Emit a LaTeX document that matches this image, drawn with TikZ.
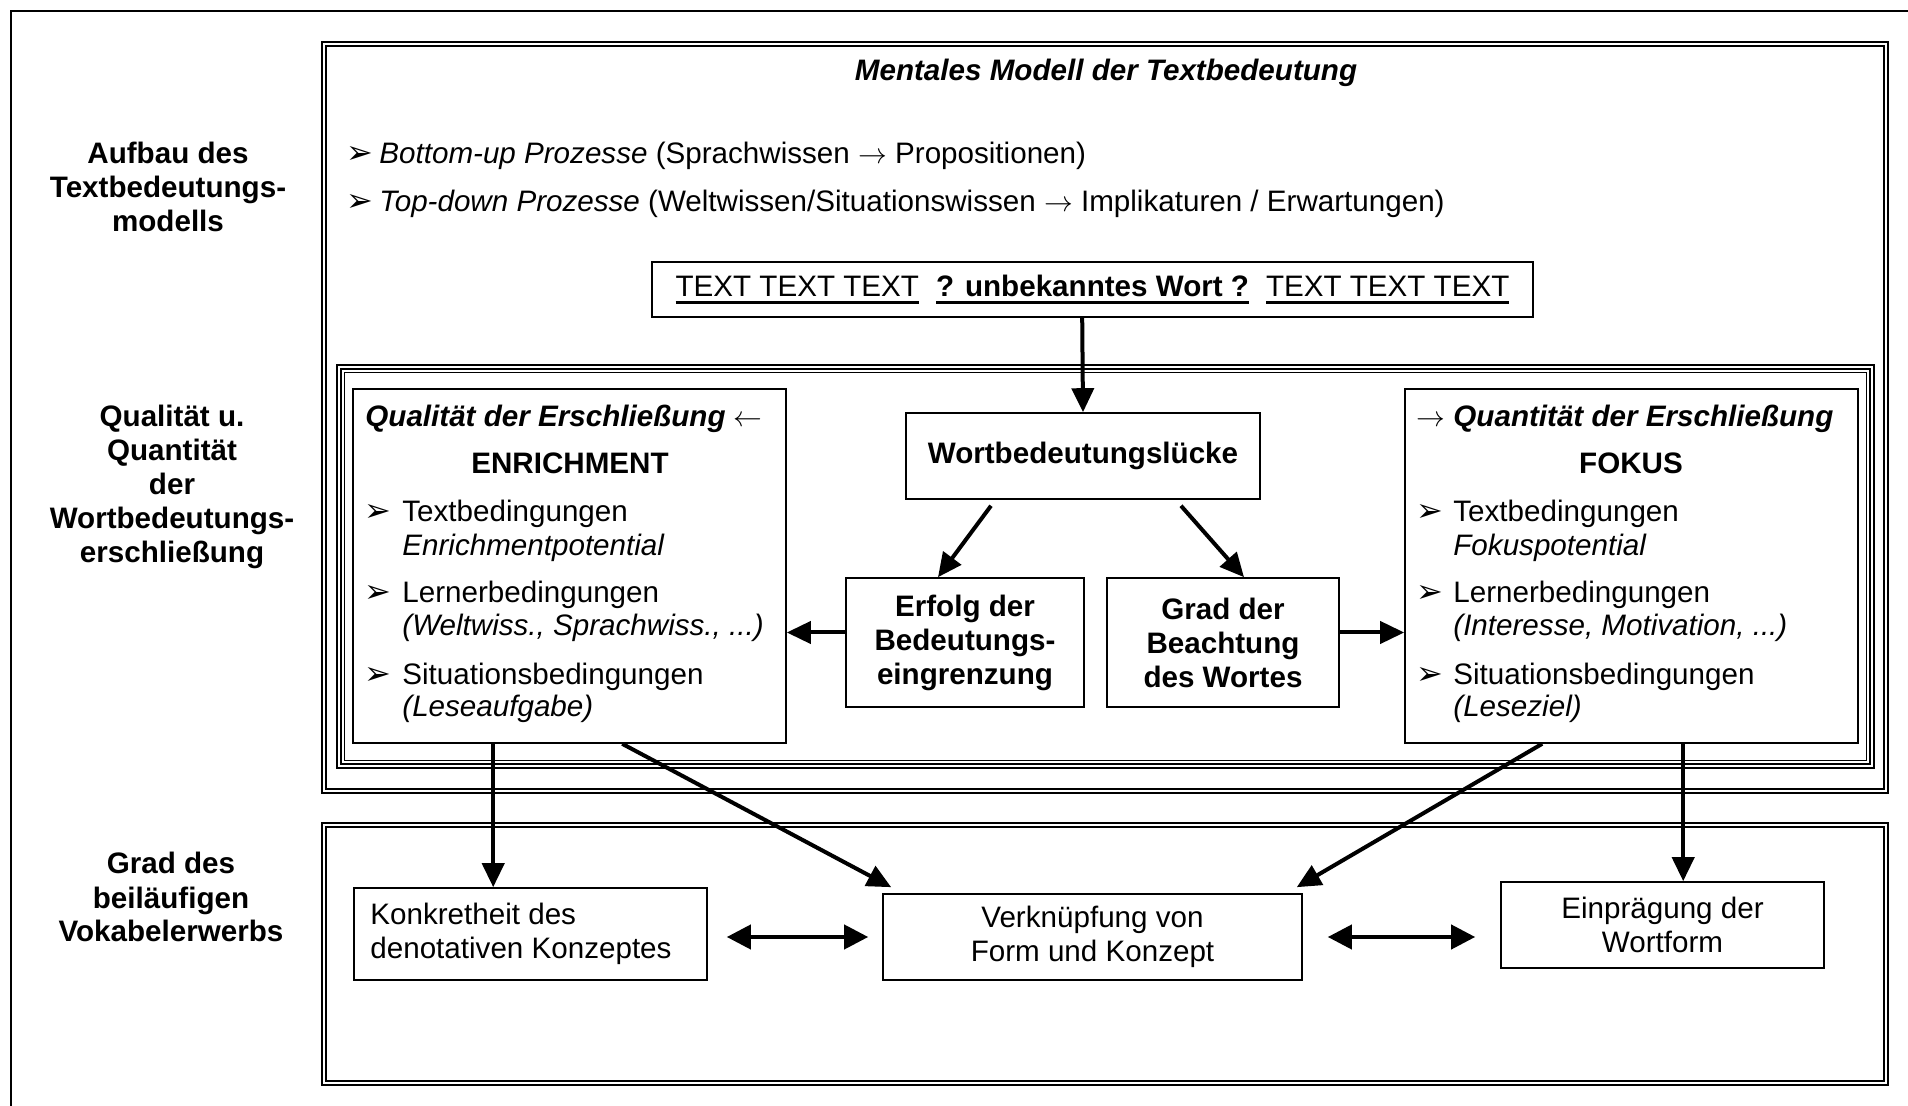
\documentclass[tikz,border=0pt]{standalone}
\usepackage{fontspec}
\setmainfont{Liberation Sans}
\newfontfamily\dingfont{DejaVu Sans}
\usetikzlibrary{arrows.meta,fit,calc}

% thick underline for the sample sentence
\newcommand\thul[1]{\setbox0\hbox{#1}\rlap{\rule[-3.4pt]{\wd0}{1.2pt}}\box0}
% arrowhead bullet
\newcommand\bul{{\dingfont\fontsize{16}{16}\selectfont ➢}}

\begin{document}
\begin{tikzpicture}[x=0.5pt,y=-0.5pt,
  font=\fontsize{14.8}{17}\selectfont,
  box/.style={draw, line width=0.8pt, inner sep=0pt},
  arr/.style={line width=2pt, -{Triangle[length=12pt,width=11pt]}},
  darr/.style={line width=2pt, {Triangle[length=12pt,width=12pt]}-{Triangle[length=12pt,width=12pt]}},
  lab/.style={anchor=base, inner sep=0pt, font=\fontsize{14.8}{17}\selectfont\bfseries},
  tl/.style={anchor=base west, inner sep=0pt},
  tc/.style={anchor=base, inner sep=0pt},
  mid/.style={anchor=center, inner sep=0pt, align=center},
  frame/.style={line width=1pt},
  bold/.style={font=\fontsize{14.8}{17}\selectfont\bfseries},
]
\useasboundingbox (0,0) rectangle (1908,1106);

% open outer frame
\draw[line width=1.1pt] (11,1110) -- (11,11) -- (1912,11);

% section frames
\draw[frame] (322,42) rectangle (1888,793);
\draw[frame] (326,46) rectangle (1884,789);
\draw[line width=0.6pt] (337,365) rectangle (1874,768);
\draw[line width=1.1pt] (341,369) rectangle (1870,764);
\draw[line width=0.6pt] (344.5,372.5) rectangle (1866.5,760.5);
\draw[frame] (322,823) rectangle (1888,1085);
\draw[frame] (326,827) rectangle (1884,1081);

% row labels
\node[lab] (la1) at (168,164) {Aufbau des};
\node[lab] (la2) at (168,198) {Textbedeutungs-};
\node[lab] (la3) at (168,232) {modells};
\node[lab] (lb1) at (172,427) {Qualität u.};
\node[lab] (lb2) at (172,461) {Quantität};
\node[lab] (lb3) at (172,495) {der};
\node[lab] (lb4) at (172,529) {Wortbedeutungs-};
\node[lab] (lb5) at (172,563) {erschließung};
\node[lab] (lc1) at (171,874) {Grad des};
\node[lab] (lc2) at (171,908) {beiläufigen};
\node[lab] (lc3) at (171,942) {Vokabelerwerbs};

% mental model section
\node[tc, font=\fontsize{14.8}{17}\selectfont\bfseries\itshape] (title) at (1106,81) {Mentales Modell der Textbedeutung};
\node[tl] (bu1) at (346,164) {\bul};
\node[tl] (p1) at (379,164) {{\itshape Bottom-up Prozesse} (Sprachwissen $\rightarrow$ Propositionen)};
\node[tl] (bu2) at (346,212) {\bul};
\node[tl] (p2) at (379,212) {{\itshape Top-down Prozesse} (Weltwissen/Situationswissen $\rightarrow$ Implikaturen / Erwartungen)};

\node[box, fit={(652,262) (1533,317)}] (textbox) {};
\node[tc] (sample) at ($(textbox.center)+(0,7.5)$)
  {\thul{TEXT TEXT TEXT}\hspace{8.5pt}\thul{\bfseries ? unbekanntes Wort ?}\hspace{8.5pt}\thul{TEXT TEXT TEXT}};

% word meaning gap section
\node[box, fit={(906,413) (1260,499)}] (wort) {};
\node[mid, bold] (wortt) at (wort.center) {Wortbedeutungslücke};
\node[box, fit={(846,578) (1084,707)}] (erfolg) {};
\node[mid, bold] (erfolgt) at (erfolg.center) {Erfolg der\\Bedeutungs-\\eingrenzung};
\node[box, fit={(1107,578) (1339,707)}] (grad) {};
\node[mid, bold] (gradt) at (grad.center) {Grad der\\Beachtung\\des Wortes};

\node[box, fit={(353,389) (786,743)}] (lbox) {};
\node[tl] (lh) at (365,427) {{\bfseries\itshape Qualität der Erschließung} $\leftarrow$};
\node[tc, bold] (lh2) at (570,474) {ENRICHMENT};
\node[tl] (lbu1) at (364,522) {\bul};
\node[tl] (lt1) at (402,522) {Textbedingungen};
\node[tl] (lt1b) at (402,556) {\itshape Enrichmentpotential};
\node[tl] (lbu2) at (364,603) {\bul};
\node[tl] (lt2) at (402,603) {Lernerbedingungen};
\node[tl] (lt2b) at (402,636) {\itshape (Weltwiss., Sprachwiss., ...)};
\node[tl] (lbu3) at (364,685) {\bul};
\node[tl] (lt3) at (402,685) {Situationsbedingungen};
\node[tl] (lt3b) at (402,717) {\itshape (Leseaufgabe)};

\node[box, fit={(1405,389) (1858,743)}] (rbox) {};
\node[tl] (rh) at (1416,427) {$\rightarrow$ {\bfseries\itshape Quantität der Erschließung}};
\node[tc, bold] (rh2) at (1631,474) {FOKUS};
\node[tl] (rbu1) at (1416,522) {\bul};
\node[tl] (rt1) at (1453,522) {Textbedingungen};
\node[tl] (rt1b) at (1453,556) {\itshape Fokuspotential};
\node[tl] (rbu2) at (1416,603) {\bul};
\node[tl] (rt2) at (1453,603) {Lernerbedingungen};
\node[tl] (rt2b) at (1453,636) {\itshape (Interesse, Motivation, ...)};
\node[tl] (rbu3) at (1416,685) {\bul};
\node[tl] (rt3) at (1453,685) {Situationsbedingungen};
\node[tl] (rt3b) at (1453,717) {\itshape (Leseziel)};

% incidental vocabulary acquisition section
\node[box, fit={(354,888) (707,980)}] (konk) {};
\node[tl] (kt1) at (370,925) {Konkretheit des};
\node[tl] (kt2) at (370,958) {denotativen Konzeptes};
\node[box, fit={(883,894) (1302,980)}] (verk) {};
\node[mid] (verkt) at (verk.center) {Verknüpfung von\\Form und Konzept};
\node[box, fit={(1501,882) (1824,968)}] (einp) {};
\node[mid] (einpt) at (einp.center) {Einprägung der\\Wortform};

% connectors
\draw[arr] ($(textbox.south west)+(431,0)$) -- (wort.north);
\draw[arr] ($(wort.south)+(-92,6)$) -- ($(erfolg.north)+(-27,0)$);
\draw[arr] ($(wort.south)+(98,6)$) -- ($(grad.north)+(21,0)$);
\draw[arr] ($(erfolg.west)+(0,-10)$) -- ($(erfolg.west -| lbox.east)+(0,-10)$);
\draw[arr] ($(grad.east)+(0,-10)$) -- ($(grad.east -| rbox.west)+(0,-10)$);
\draw[arr] ($(lbox.south west)+(141,0)$) -- ($(konk.north west)+(140,0)$);
\draw[arr] ($(lbox.south west)+(270,0)$) -- ($(verk.north west)+(9,-6)$);
\draw[arr] ($(rbox.south west)+(138,0)$) -- ($(verk.north east)+(-6,-6)$);
\draw[arr] ($(rbox.south west)+(279,0)$) -- ($(einp.north west)+(183,0)$);
\draw[darr] ($(konk.east |- verk.west)+(19,0)$) -- ($(verk.west)+(-14,0)$);
\draw[darr] ($(verk.east)+(25,0)$) -- ($(verk.east -| einp.west)+(-25,0)$);
\end{tikzpicture}
\end{document}
